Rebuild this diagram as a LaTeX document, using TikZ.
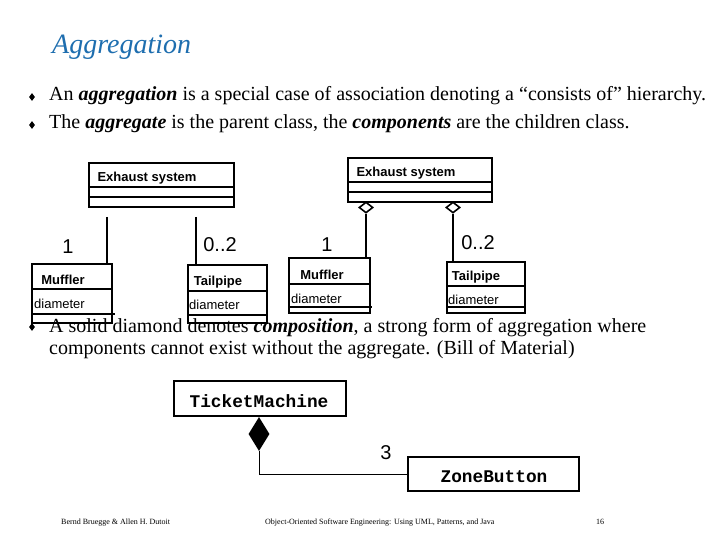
\documentclass[tikz,border=0pt]{standalone}
\usepackage{fontspec}
\setmainfont{Liberation Serif}
\newfontfamily\arialf{Liberation Sans}
\newfontfamily\courf{Liberation Mono}
\usetikzlibrary{shapes.geometric}
\definecolor{titleblue}{RGB}{30,110,175}
\tikzset{
  cls/.style={draw, line width=1.6pt, inner sep=0pt, anchor=north west},
  comp/.style={line width=1.6pt},
  conn/.style={line width=1.6pt},
  clsname/.style={font=\arialf\bfseries\fontsize{13}{15}\selectfont, inner sep=0pt},
  attr/.style={font=\arialf\fontsize{13}{15}\selectfont, inner sep=0pt, anchor=west},
  mult/.style={font=\arialf\fontsize{20}{24}\selectfont, inner sep=0pt},
  bul/.style={diamond, fill=black, inner sep=0pt, minimum width=6pt, minimum height=8pt},
  btext/.style={font=\fontsize{20}{24}\selectfont, inner sep=0pt, anchor=base west},
  foot/.style={font=\fontsize{8}{10}\selectfont, inner sep=0pt, anchor=base west},
  odia/.style={diamond, draw, fill=white, line width=1.6pt, inner sep=0pt, minimum width=14pt, minimum height=11pt},
  mono/.style={font=\courf\bfseries\fontsize{17.8}{21}\selectfont, inner sep=0pt},
}
\newcommand{\bi}[1]{\textbf{\textit{#1}}}
\begin{document}
\begin{tikzpicture}[x=1pt,y=-1pt]
\useasboundingbox (0,0) rectangle (720,540);
% title
\node[font=\fontsize{28}{32}\selectfont\itshape, text=titleblue, inner sep=0pt, anchor=base west] (title) at (52,54) {Aggregation};
% bullets
\node[bul] (b1) at (32,97) {};
\node[btext] (t1) at (49,101) {An \bi{aggregation} is a special case of association denoting a “consists of” hierarchy.};
\node[bul] (b2) at (32,125) {};
\node[btext] (t2) at (49,129) {The \bi{aggregate} is the parent class, the \bi{components} are the children class.};

% left diagram
\node[cls, minimum width=145pt, minimum height=44pt] (exL) at (88,162) {};
\draw[comp] (88,187) -- (233,187) (88,197) -- (233,197);
\node[clsname] (exLt) at (147,178) {Exhaust system};
\node[cls, minimum width=80pt, minimum height=59pt] (mufL) at (31,263) {};
\draw[comp] (31,289) -- (111,289) (31,314) -- (115,314);
\node[clsname] (mufLt) at (63,280) {Muffler};
\node[attr] (mufLa) at (34,304) {diameter};
\node[cls, minimum width=79pt, minimum height=58pt] (tpL) at (187,264) {};
\draw[comp] (187,291) -- (266,291) (187,315) -- (266,315);
\node[clsname] (tpLt) at (218,282) {Tailpipe};
\node[attr] (tpLa) at (189,305) {diameter};
\coordinate (cL1) at (107,217);
\coordinate (cL2) at (196,217);
\draw[conn] (cL1) -- (cL1 |- mufL.north);
\draw[conn] (cL2) -- (cL2 |- tpL.north);
\node[mult] (mL1) at (68,247) {1};
\node[mult] (mL2) at (220,245) {0..2};

% right diagram
\node[cls, minimum width=144pt, minimum height=44pt] (exR) at (347,157) {};
\draw[comp] (347,182) -- (491,182) (347,192) -- (491,192);
\node[clsname] (exRt) at (406,173) {Exhaust system};
\node[cls, minimum width=81pt, minimum height=55pt] (mufR) at (288,257) {};
\draw[comp] (288,284) -- (369,284) (288,307) -- (372,307);
\node[clsname] (mufRt) at (322,275) {Muffler};
\node[attr] (mufRa) at (291,299) {diameter};
\node[cls, minimum width=78pt, minimum height=51pt] (tpR) at (446,261) {};
\draw[comp] (446,286) -- (524,286) (446,307) -- (524,307);
\node[clsname] (tpRt) at (476,277) {Tailpipe};
\node[attr] (tpRa) at (448,300) {diameter};
\node[odia] (d1) at (366,207.5) {};
\node[odia] (d2) at (453,207.5) {};
\draw[conn] (d1.south) -- (d1.south |- mufR.north);
\draw[conn] (d2.south) -- (d2.south |- tpR.north);
\node[mult] (mR1) at (327,245) {1};
\node[mult] (mR2) at (478,243) {0..2};

% bullet 3
\node[bul] (b3) at (32,327) {};
\node[btext] (t3) at (49,332) {A solid diamond denotes \bi{composition}, a strong form of aggregation where};
\node[btext] (t3b) at (49,354) {components cannot exist without the aggregate. (Bill of Material)};

% composition
\node[draw, line width=2.2pt, minimum width=172pt, minimum height=35pt, inner sep=0pt, anchor=north west] (tm) at (173,380) {};
\node[mono] (tmt) at (259,401) {TicketMachine};
\node[draw, line width=2.2pt, minimum width=171pt, minimum height=34pt, inner sep=0pt, anchor=north west] (zb) at (407,456) {};
\node[mono] (zbt) at (494,477) {ZoneButton};
\node[diamond, fill=black, inner sep=0pt, minimum width=21pt, minimum height=34pt] (fd) at (259,434) {};
\draw[line width=1pt] (fd.south) |- (zb.west |- 0,474);
\node[font=\arialf\fontsize{20}{24}\selectfont, inner sep=0pt] (m3) at (386,453) {3};

% footer
\node[foot] (f1) at (61,524) {Bernd Bruegge \& Allen H. Dutoit};
\node[foot] (f2) at (265,524) {Object-Oriented Software Engineering: Using UML, Patterns, and Java};
\node[foot] (f3) at (596,524) {16};
\end{tikzpicture}
\end{document}
